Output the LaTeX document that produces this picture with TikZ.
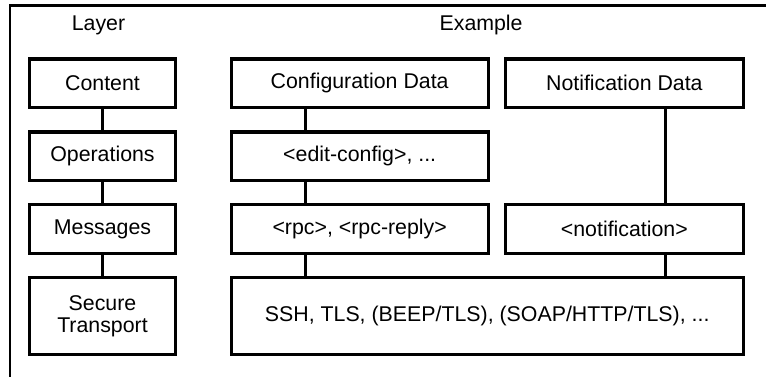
\documentclass[tikz,border=0pt]{standalone}
\usepackage{fontspec}
\setmainfont{Liberation Sans}
\usepackage{tikz}
\usetikzlibrary{positioning}
\tikzset{
  font=\fontsize{16}{18}\selectfont,
  layerblock/.style={
    rectangle, draw=black, line width=2.4pt,
    minimum width=110pt, minimum height=36.4pt,
    align=center, inner sep=2pt
  },
  exampleblock/.style={layerblock, minimum width=192.75pt},
  notifblock/.style={layerblock, minimum width=178.3pt},
  transportblock/.style={layerblock, minimum height=57.5pt},
  linkline/.style={draw=black, line width=2.4pt},
  frameline/.style={draw=black, line width=2pt}
}

\begin{document}
\begin{tikzpicture}[x=0.75pt, y=-0.75pt, node distance=15.9pt and 39.1pt]
  \useasboundingbox (0,0) rectangle (766,377);

  % Frame (top and left edges)
  \draw[frameline] (766,5.3) -- (10,5.3) -- (10,377);

  % Layer column
  \node[layerblock] (content) at (102.5,83.3) {Content};
  \node[layerblock, below=of content] (ops) {Operations};
  \node[layerblock, below=of ops] (msgs) {Messages};
  \node[transportblock, below=of msgs] (transport) {Secure\\[-2pt]Transport};

  % Example column
  \node[exampleblock, right=of content] (cfgdata) {Configuration Data};
  \node[exampleblock, below=of cfgdata] (editcfg) {<edit-config>, ...};
  \node[exampleblock, below=of editcfg] (rpc) {<rpc>, <rpc-reply>};
  \node[notifblock, right=10.6pt of cfgdata] (notifdata) {Notification Data};
  \node[notifblock] (notif) at (notifdata |- rpc) {<notification>};
  \node[transportblock, minimum width=384pt, below right=15.9pt and 0pt of rpc.south west] (ssh)
    {SSH, TLS, (BEEP/TLS), (SOAP/HTTP/TLS), ...};

  % Headings
  \node[above=24.4pt of content.north, anchor=center, xshift=-3pt] (layerhead) {Layer};
  \node[above=24.4pt of cfgdata.north east, anchor=center, xshift=-6.5pt] (examplehead) {Example};

  % Links
  \draw[linkline] (content) -- (ops);
  \draw[linkline] (ops) -- (msgs);
  \draw[linkline] (msgs) -- (transport);
  \draw[linkline] ([xshift=-40.9pt]cfgdata.south) -- ([xshift=-40.9pt]editcfg.north);
  \draw[linkline] ([xshift=-40.9pt]editcfg.south) -- ([xshift=-40.9pt]rpc.north);
  \draw[linkline] ([xshift=-40.9pt]rpc.south) -- ([xshift=-40.9pt]rpc.south |- ssh.north);
  \draw[linkline] ([xshift=30.6pt]notifdata.south) -- ([xshift=30.6pt]notif.north);
  \draw[linkline] ([xshift=30.6pt]notif.south) -- ([xshift=30.6pt]notif.south |- ssh.north);
\end{tikzpicture}
\end{document}
